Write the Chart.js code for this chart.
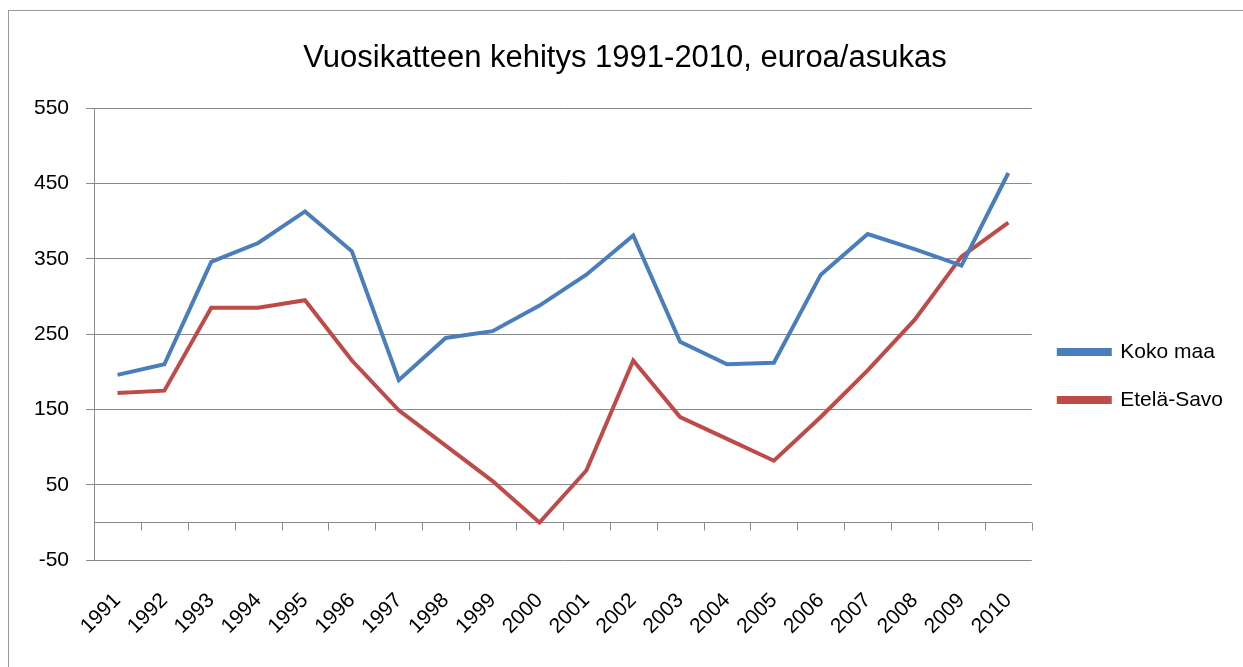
<!DOCTYPE html>
<html>
<head>
<meta charset="utf-8">
<script src="https://cdn.jsdelivr.net/npm/chart.js@4.4.1/dist/chart.umd.min.js"></script>
<style>
  html, body { margin: 0; padding: 0; background: #ffffff; }
  #wrap { width: 1243px; height: 667px; position: relative; }
</style>
</head>
<body>
<div id="wrap"><canvas id="chart"></canvas></div>
<script>
const years = ['1991', '1992', '1993', '1994', '1995', '1996', '1997', '1998', '1999', '2000',
               '2001', '2002', '2003', '2004', '2005', '2006', '2007', '2008', '2009', '2010'];
const kokoMaa = [196, 210, 346, 371, 413, 360, 189, 245, 254, 288,
                 329, 381, 240, 210, 212, 329, 383, 363, 341, 464];
const etelaSavo = [172, 175, 285, 285, 295, 215, 149, 102, 55, 0,
                   69, 215, 140, 111, 82, 140, 202, 269, 353, 398];
const yTicks = [-50, 50, 150, 250, 350, 450, 550];

const fontFamily = "'Liberation Sans', Arial, sans-serif";
const gridColor = '#8a8a8a';
const textColor = '#000000';

// outer frame of the chart object (only top and left edges are in view)
const framePlugin = {
    id: 'frame',
    beforeDraw(chart) {
        const {ctx} = chart;
        ctx.save();
        ctx.fillStyle = '#ffffff';
        ctx.fillRect(0, 0, chart.width, chart.height);
        ctx.strokeStyle = '#9a9a9a';
        ctx.lineWidth = 1;
        ctx.strokeRect(8.5, 10.5, 1400, 800);
        ctx.restore();
    }
};

// category axis crossing at zero, with tick marks between categories
const zeroAxisPlugin = {
    id: 'zeroAxis',
    beforeDatasetsDraw(chart) {
        const {ctx} = chart;
        const x = chart.scales.x;
        const y = chart.scales.y;
        const y0 = Math.round(y.getPixelForValue(0)) + 0.5;
        const step = x.width / years.length;
        ctx.save();
        ctx.strokeStyle = gridColor;
        ctx.lineWidth = 1;
        ctx.beginPath();
        ctx.moveTo(x.left, y0);
        ctx.lineTo(x.right, y0);
        for (let i = 1; i <= years.length; i++) {
            const px = Math.round(x.left + i * step) + 0.5;
            ctx.moveTo(px, y0);
            ctx.lineTo(px, y0 + 8);
        }
        ctx.stroke();
        ctx.restore();
    }
};

new Chart(document.getElementById('chart'), {
    type: 'line',
    data: {
        labels: years,
        datasets: [{
            label: 'Koko maa',
            data: kokoMaa,
            borderColor: '#4a7ebb',
            backgroundColor: '#4a7ebb',
            borderWidth: 4,
            pointRadius: 0,
            tension: 0
        }, {
            label: 'Etelä-Savo',
            data: etelaSavo,
            borderColor: '#be4b48',
            backgroundColor: '#be4b48',
            borderWidth: 4,
            pointRadius: 0,
            tension: 0
        }]
    },
    options: {
        responsive: true,
        maintainAspectRatio: false,
        animation: false,
        layout: {
            padding: { left: 17, right: 10, top: 0, bottom: 0 }
        },
        plugins: {
            title: {
                display: true,
                text: 'Vuosikatteen kehitys 1991-2010, euroa/asukas',
                color: textColor,
                font: { family: fontFamily, size: 31, weight: 'normal' },
                padding: { top: 40, bottom: 31 }
            },
            legend: {
                position: 'right',
                title: {
                    display: true,
                    text: ' ',
                    font: { size: 1 },
                    padding: { top: 0, bottom: 84 }
                },
                labels: {
                    color: textColor,
                    font: { family: fontFamily, size: 21 },
                    boxWidth: 51,
                    boxHeight: 4,
                    padding: 27
                }
            },
            tooltip: { enabled: false }
        },
        scales: {
            x: {
                offset: true,
                grid: { display: false, drawTicks: false },
                border: { display: false },
                ticks: {
                    color: textColor,
                    font: { family: fontFamily, size: 21 },
                    minRotation: 45,
                    maxRotation: 45,
                    autoSkip: false,
                    padding: 28
                }
            },
            y: {
                min: -50,
                max: 550,
                afterBuildTicks(scale) {
                    scale.ticks = yTicks.map(v => ({value: v}));
                },
                grid: { color: gridColor, tickLength: 8, drawTicks: true },
                border: { display: true, color: gridColor },
                ticks: {
                    color: textColor,
                    font: { family: fontFamily, size: 21 },
                    padding: 17
                }
            }
        }
    },
    plugins: [framePlugin, zeroAxisPlugin]
});
</script>
</body>
</html>
